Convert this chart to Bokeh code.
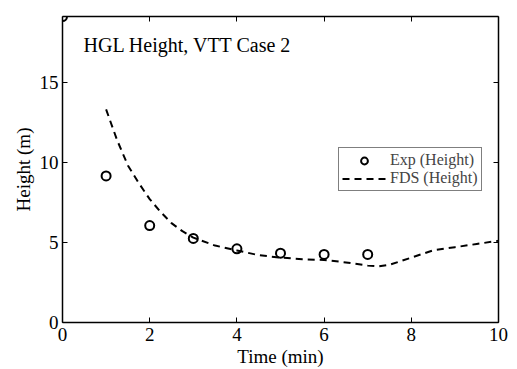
from bokeh.plotting import figure
from bokeh.models import Range1d, LinearAxis, FixedTicker, Legend, LegendItem, Label
from bokeh.embed import file_html
from bokeh.resources import INLINE

exp_t = [0, 1, 2, 3, 4, 5, 6, 7]
exp_h = [19.1, 9.15, 6.05, 5.25, 4.6, 4.33, 4.25, 4.25]

fds_t = [1, 1.25, 1.5, 1.75, 2, 2.25, 2.5, 2.75, 3, 3.5, 4, 4.5, 5, 5.5, 6, 6.5,
         7, 7.25, 7.5, 8, 8.5, 9, 9.5, 10]
fds_h = [13.3, 11.4, 9.8, 8.7, 7.7, 6.9, 6.2, 5.7, 5.3, 4.8, 4.5, 4.2, 4.05, 3.95,
         3.9, 3.75, 3.55, 3.5, 3.6, 4.05, 4.5, 4.7, 4.9, 5.1]

x_ticks = [0, 2, 4, 6, 8, 10]
y_ticks = [0, 5, 10, 15]

FONT = "Liberation Serif"

p = figure(width=509, height=369, output_backend="svg", toolbar_location=None,
           x_range=Range1d(0, 10), y_range=Range1d(0, 19.1),
           min_border_left=62, min_border_right=11, min_border_top=16, min_border_bottom=47,
           x_axis_label="Time (min)", y_axis_label="Height (m)")
p.grid.visible = False
p.outline_line_color = None
p.background_fill_color = "white"

def style(ax):
    ax.axis_line_width = 1.5
    ax.axis_line_color = "black"
    ax.major_tick_in = 5
    ax.major_tick_out = 0
    ax.major_tick_line_width = 1
    ax.minor_tick_line_color = None
    ax.major_label_text_font = FONT
    ax.major_label_text_font_size = "19px"
    ax.major_label_text_color = "black"
    ax.axis_label_text_font = FONT
    ax.axis_label_text_font_size = "19px"
    ax.axis_label_text_font_style = "normal"
    ax.axis_label_text_color = "black"

p.xaxis.ticker = FixedTicker(ticks=x_ticks)
p.yaxis.ticker = FixedTicker(ticks=y_ticks)
style(p.xaxis[0])
style(p.yaxis[0])
p.xaxis.major_label_standoff = 5
p.yaxis.major_label_standoff = 4
p.xaxis.axis_label_standoff = 2
p.yaxis.axis_label_standoff = 3

top = LinearAxis(ticker=FixedTicker(ticks=x_ticks),
                 major_label_overrides={t: "" for t in x_ticks})
right = LinearAxis(ticker=FixedTicker(ticks=y_ticks),
                   major_label_overrides={t: "" for t in y_ticks})
style(top)
style(right)
top.major_label_standoff = 0
right.major_label_standoff = 0
p.add_layout(top, "above")
p.add_layout(right, "right")

r_line = p.line(fds_t, fds_h, line_color="black", line_width=2, line_dash="7 5")
r_pts = p.scatter(exp_t, exp_h, marker="circle", size=9, fill_color=None,
                  line_color="black", line_width=2)

p.add_layout(Label(x=21, y=267, x_units="screen", y_units="screen",
                   text="HGL Height, VTT Case 2", text_font=FONT,
                   text_font_size="20px", text_color="black"))

legend = Legend(items=[LegendItem(label="Exp (Height)", renderers=[r_pts]),
                       LegendItem(label="FDS (Height)", renderers=[r_line])],
                location=(276, 131), label_text_font=FONT, label_text_font_size="16px",
                border_line_color="black", border_line_width=1.2,
                glyph_height=17, label_height=17, glyph_width=44, spacing=0,
                padding=3, margin=0, label_standoff=4)
p.add_layout(legend)

open("out.html", "w").write(file_html(p, INLINE))
